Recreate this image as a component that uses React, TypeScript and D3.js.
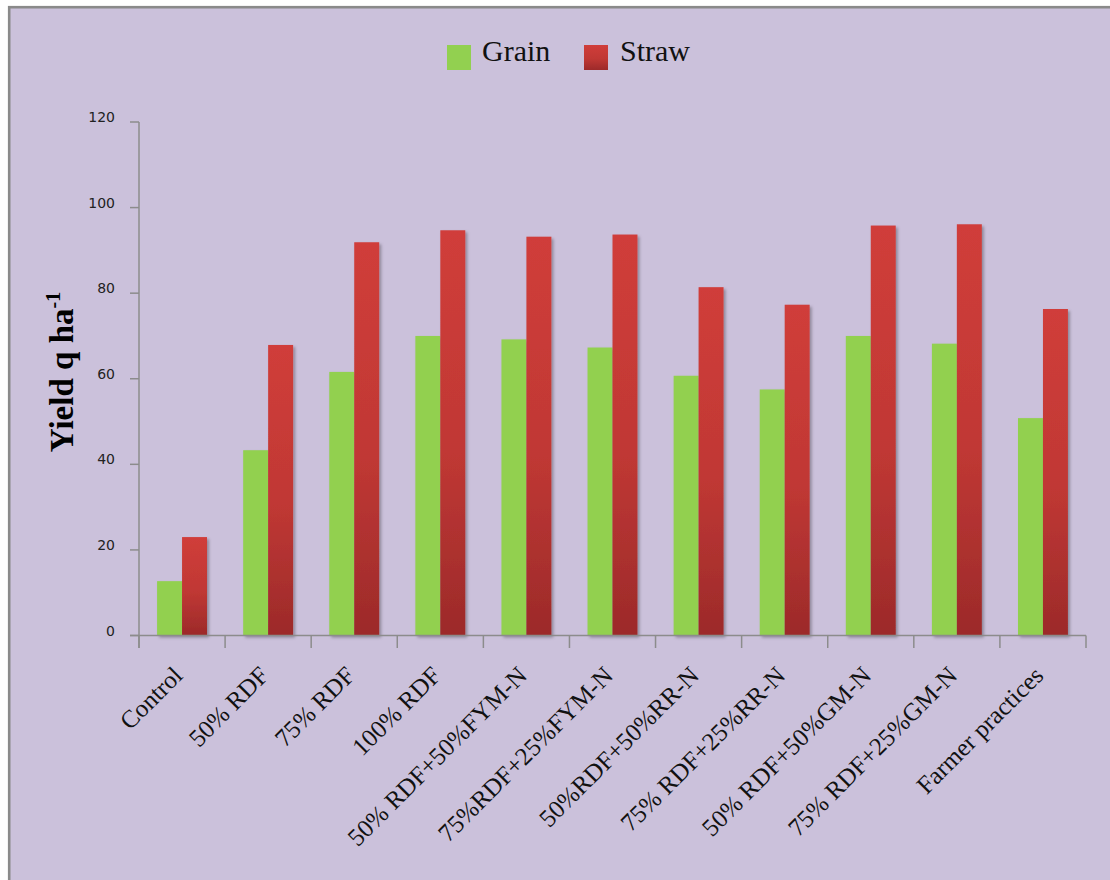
import React from 'react';
import * as d3 from 'd3';

const categories = [
  "Control",
  "50% RDF",
  "75% RDF",
  "100% RDF",
  "50% RDF+50%FYM-N",
  "75%RDF+25%FYM-N",
  "50%RDF+50%RR-N",
  "75% RDF+25%RR-N",
  "50% RDF+50%GM-N",
  "75% RDF+25%GM-N",
  "Farmer practices",
];
const grain = [12.7, 43.3, 61.6, 70.0, 69.2, 67.3, 60.7, 57.5, 70.0, 68.2, 50.8];
const straw = [23.0, 67.9, 91.9, 94.7, 93.2, 93.7, 81.4, 77.3, 95.8, 96.1, 76.3];
const seriesNames = ["Grain", "Straw"];
const yTicks = [0, 20, 40, 60, 80, 100, 120];

const W = 1110;
const H = 880;
const X0 = 139;
const X1 = 1086;
const Y0 = 635.5;
const YT = 122;
const AXIS = '#8c8c8c';

export default function App() {
  const x = d3.scaleBand<string>().domain(categories).range([X0, X1]).paddingInner(0.42).paddingOuter(0.21);
  const xs = d3.scaleBand<string>().domain(seriesNames).range([0, x.bandwidth()]).padding(0);
  const y = d3.scaleLinear().domain([0, 120]).range([Y0, YT]);
  const step = x.step();
  const boundaries = d3.range(categories.length + 1).map((i) => X0 + i * step);
  const data = categories.map((c, i) => ({ c, vals: [grain[i], straw[i]] }));
  const fills = ['#92d050', 'url(#strawGrad)'];

  return (
    <svg width={W} height={H} style={{ position: 'absolute', left: 0, top: 0 }}>
      <defs>
        <linearGradient id="strawGrad" x1="0" y1="0" x2="0" y2="1">
          <stop offset="0" stopColor="#d03d3a" />
          <stop offset="0.55" stopColor="#c03834" />
          <stop offset="1" stopColor="#9c2a2a" />
        </linearGradient>
        <filter id="shadow" x="-20%" y="-5%" width="150%" height="115%">
          <feDropShadow dx="2" dy="2" stdDeviation="1.6" floodColor="#000" floodOpacity="0.3" />
        </filter>
      </defs>
      <rect x={0} y={0} width={W} height={H} fill="#ffffff" />
      <rect x={9.2} y={7.2} width={W + 10} height={H + 10} fill="#cbc1db" stroke="#8a8a8a" strokeWidth={2.6} />

      {/* legend */}
      <rect x={447} y={45} width={24} height={25} fill="#92d050" />
      <text x={482} y={61} fontFamily="'Liberation Serif', serif" fontSize={30} fill="#111">Grain</text>
      <rect x={584} y={45} width={24} height={25} fill="url(#strawGrad)" />
      <text x={620} y={61} fontFamily="'Liberation Serif', serif" fontSize={30} fill="#111">Straw</text>

      {/* bars */}
      <g filter="url(#shadow)">
        {data.map((d) =>
          d.vals.map((v, j) => (
            <rect
              key={d.c + j}
              x={(x(d.c) as number) + (xs(seriesNames[j]) as number)}
              y={y(v)}
              width={xs.bandwidth()}
              height={Y0 - y(v)}
              fill={fills[j]}
            />
          ))
        )}
      </g>

      {/* y axis */}
      <line x1={X0} x2={X0} y1={YT} y2={648} stroke={AXIS} strokeWidth={1.5} />
      {yTicks.map((t) => (
        <g key={t}>
          <line x1={130} x2={X0} y1={y(t)} y2={y(t)} stroke={AXIS} strokeWidth={1.5} />
          <text x={115} y={y(t)} textAnchor="end" fontFamily="'DejaVu Sans', sans-serif" fontSize={14} fill="#222">{t}</text>
        </g>
      ))}

      {/* x axis */}
      <line x1={130} x2={X1} y1={Y0} y2={Y0} stroke={AXIS} strokeWidth={1.5} />
      {boundaries.map((b, i) => (
        <line key={i} x1={b} x2={b} y1={Y0} y2={648} stroke={AXIS} strokeWidth={1.5} />
      ))}
      {categories.map((c) => {
        const cx = (x(c) as number) + x.bandwidth() / 2;
        return (
          <text
            key={c}
            transform={`translate(${cx + 2},${677}) rotate(-45)`}
            textAnchor="end"
            fontFamily="'Liberation Serif', serif"
            fontSize={25}
            fill="#111"
          >
            {c}
          </text>
        );
      })}

      {/* y label */}
      <text
        transform="translate(73,372) rotate(-90)"
        textAnchor="middle"
        fontFamily="'Liberation Serif', serif"
        fontWeight="bold"
        fontSize={33}
        fill="#000"
      >
        Yield q ha<tspan dy={-13} fontSize={20}>-1</tspan>
      </text>
    </svg>
  );
}
